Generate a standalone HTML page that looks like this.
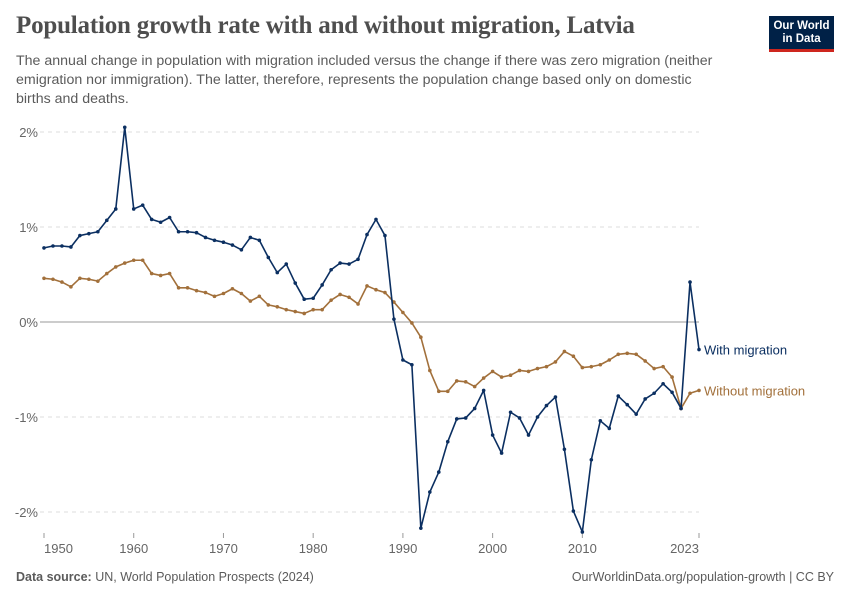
<!DOCTYPE html>
<html><head><meta charset="utf-8"><style>
body{margin:0;background:#fff;font-family:"Liberation Sans",sans-serif;}
#wrap{position:relative;width:850px;height:600px;overflow:hidden;}
h1{position:absolute;left:16px;top:12px;margin:0;font-family:"Liberation Serif",serif;font-size:25px;font-weight:bold;color:#4e4e4e;letter-spacing:-0.2px;}
.sub{position:absolute;left:16px;top:52px;width:706px;font-size:14.2px;line-height:19px;color:#5b5b5b;}
.logo{position:absolute;left:769px;top:16px;width:65px;height:36px;background:#002147;border-bottom:3px solid #ce261e;color:#fff;font-size:11.5px;font-weight:bold;text-align:center;line-height:13px;padding-top:4px;box-sizing:border-box;}
.foot{position:absolute;top:570px;font-size:12.5px;color:#5b5b5b;}
</style></head><body>
<div id="wrap">
<h1>Population growth rate with and without migration, Latvia</h1>
<div class="sub">The annual change in population with migration included versus the change if there was zero migration (neither emigration nor immigration). The latter, therefore, represents the population change based only on domestic births and deaths.</div>
<div class="logo">Our World<br>in Data</div>
<svg id="chart" width="850" height="600" style="position:absolute;left:0;top:0"></svg>
<div class="foot" style="left:16px"><b>Data source:</b> UN, World Population Prospects (2024)</div>
<div class="foot" style="right:16px">OurWorldinData.org/population-growth | CC BY</div>
</div>
<script>
const years = Array.from({length:74},(_,i)=>1950+i);
const withMigration = [0.78,0.80,0.80,0.79,0.91,0.93,0.95,1.07,1.19,2.05,1.19,1.23,1.08,1.05,1.10,0.95,0.95,0.94,0.89,0.86,0.84,0.81,0.76,0.89,0.86,0.68,0.52,0.61,0.41,0.24,0.25,0.39,0.55,0.62,0.61,0.66,0.92,1.08,0.91,0.03,-0.40,-0.45,-2.17,-1.79,-1.58,-1.26,-1.02,-1.01,-0.91,-0.72,-1.19,-1.38,-0.95,-1.01,-1.19,-1.00,-0.88,-0.79,-1.34,-1.99,-2.21,-1.45,-1.04,-1.12,-0.78,-0.87,-0.97,-0.81,-0.75,-0.65,-0.74,-0.91,0.42,-0.29];
const withoutMigration = [0.46,0.45,0.42,0.37,0.46,0.45,0.43,0.51,0.58,0.62,0.65,0.65,0.51,0.49,0.51,0.36,0.36,0.33,0.31,0.27,0.30,0.35,0.30,0.22,0.27,0.18,0.16,0.13,0.11,0.09,0.13,0.13,0.23,0.29,0.26,0.19,0.38,0.34,0.31,0.21,0.10,-0.01,-0.16,-0.51,-0.73,-0.73,-0.62,-0.63,-0.68,-0.59,-0.52,-0.58,-0.56,-0.51,-0.52,-0.49,-0.47,-0.42,-0.31,-0.36,-0.48,-0.47,-0.45,-0.40,-0.34,-0.33,-0.34,-0.41,-0.49,-0.47,-0.58,-0.91,-0.75,-0.72];
const yTicks = [2,1,0,-1,-2];
const xTicks = [1950,1960,1970,1980,1990,2000,2010,2023];
const NS="http://www.w3.org/2000/svg";
const svg=document.getElementById('chart');
const x0=44,x1=699,y0=322,ppu=95;
const xs=y=>x0+(y-1950)*(x1-x0)/(2023-1950);
const ys=v=>y0-v*ppu;
function mk(t,a){const e=document.createElementNS(NS,t);for(const k in a)e.setAttribute(k,a[k]);svg.appendChild(e);return e;}
yTicks.forEach(t=>{
  const l=mk('line',{x1:40,x2:x1,y1:ys(t),y2:ys(t),stroke:t===0?'#bbb':'#ddd','stroke-width':t===0?1.5:1,'stroke-dasharray':t===0?'':'4,4'});
  
  
  const tx=mk('text',{x:38,y:ys(t)+5,'text-anchor':'end','font-size':13,fill:'#666','font-family':'Liberation Sans, sans-serif'});
  tx.textContent=t+'%';
  
  
});
xTicks.forEach((t,i)=>{
  const X=xs(t);
  const tk=mk('line',{x1:X,x2:X,y1:533,y2:538,stroke:'#999'});
  
  
  const anchor=i===0?'start':(i===xTicks.length-1?'end':'middle');
  const tx=mk('text',{x:X,y:553,'text-anchor':anchor,'font-size':13,fill:'#666','font-family':'Liberation Sans, sans-serif'});
  tx.textContent=t;
  
  
});
function series(vals,color,name,label){
  const pts=vals.map((v,i)=>xs(years[i])+','+ys(v)).join(' ');
  const pl=mk('polyline',{points:pts,fill:'none',stroke:color,'stroke-width':1.6,'stroke-linejoin':'round'});
  
  
  vals.forEach((v,i)=>{
    const c=mk('circle',{cx:xs(years[i]),cy:ys(v),r:1.8,fill:color});
    
    
  });
  const last=vals[vals.length-1];
  const tx=mk('text',{x:xs(2023)+5,y:ys(last)+5,'font-size':13,fill:color,'font-family':'Liberation Sans, sans-serif'});
  tx.textContent=label;
  
  
}
series(withoutMigration,'#a2703b','without-migration','Without migration');
series(withMigration,'#0b2f61','with-migration','With migration');
</script>
</body></html>
